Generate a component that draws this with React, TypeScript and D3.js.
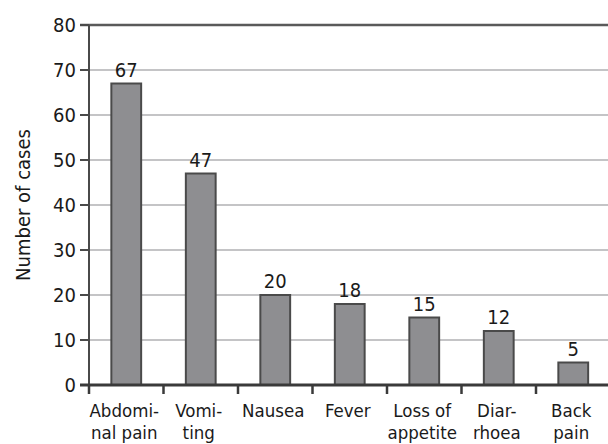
import React from "react";
import * as d3 from "d3";

const categories = ["Abdominal pain", "Vomiting", "Nausea", "Fever", "Loss of appetite", "Diarrhoea", "Back pain"];
const categoryLines = [
  ["Abdomi-", "nal pain"],
  ["Vomi-", "ting"],
  ["Nausea"],
  ["Fever"],
  ["Loss of", "appetite"],
  ["Diar-", "rhoea"],
  ["Back", "pain"],
];
const cases = [67, 47, 20, 18, 15, 12, 5];
const yTicks = [0, 10, 20, 30, 40, 50, 60, 70, 80];
const yTitle = "Number of cases";

const W = 608;
const H = 444;
const left = 89;
const top = 25;
const bottom = 385;
const right = 610.5;
const FONT = "'Liberation Sans Narrow', 'DejaVu Sans Condensed', 'Roboto', sans-serif";

export default function App() {
  const x = d3.scaleBand<string>().domain(categories).range([left, right]).paddingInner(0).paddingOuter(0);
  const y = d3.scaleLinear().domain([0, 80]).range([bottom, top]);
  const bw = x.bandwidth() * 0.4;
  const boundaries = d3.range(categories.length + 1).map((i) => left + i * x.step());

  return (
    <svg
      width={W}
      height={H}
      style={{ position: "absolute", left: 0, top: 0, background: "#fff" }}
      fontFamily={FONT}
    >
      {yTicks
        .filter((t) => t !== 0 && t !== 80)
        .map((t) => (
          <line key={"g" + t} x1={left} x2={W} y1={y(t)} y2={y(t)} stroke="#c4c4c6" strokeWidth={2} />
        ))}
      <line x1={left - 9} x2={W} y1={y(80)} y2={y(80)} stroke="#5a5a5a" strokeWidth={2.5} />
      {categories.map((c, i) => {
        const cx = (x(c) as number) + x.bandwidth() / 2;
        return (
          <g key={c}>
            <rect
              x={cx - bw / 2}
              y={y(cases[i])}
              width={bw}
              height={bottom - y(cases[i])}
              fill="#8e8e91"
              stroke="#4a4a4a"
              strokeWidth={2}
            />
            <text x={cx} y={y(cases[i]) - 7} textAnchor="middle" fontSize={20} fill="#1a1a1a">
              {cases[i]}
            </text>
            {categoryLines[i].map((ln, j) => (
              <text key={j} x={cx - 2} y={417 + j * 22} textAnchor="middle" fontSize={18.5} fill="#1a1a1a">
                {ln}
              </text>
            ))}
          </g>
        );
      })}
      <line x1={left} x2={left} y1={top} y2={bottom + 8} stroke="#4a4a4a" strokeWidth={2} />
      {yTicks.map((t) => (
        <g key={"t" + t}>
          <line x1={left - 9} x2={left} y1={y(t)} y2={y(t)} stroke="#4a4a4a" strokeWidth={2} />
          <text x={76} y={y(t)} dy="0.35em" textAnchor="end" fontSize={20} fill="#1a1a1a">
            {t}
          </text>
        </g>
      ))}
      <line x1={left - 9} x2={W} y1={bottom} y2={bottom} stroke="#3a3a3a" strokeWidth={3} />
      {boundaries.map((b, i) => (
        <line key={"xb" + i} x1={b} x2={b} y1={bottom} y2={bottom + 9} stroke="#3a3a3a" strokeWidth={2.5} />
      ))}
      <text
        transform={`translate(30, ${(top + bottom) / 2}) rotate(-90)`}
        textAnchor="middle"
        fontSize={20}
        fill="#1a1a1a"
      >
        {yTitle}
      </text>
    </svg>
  );
}
